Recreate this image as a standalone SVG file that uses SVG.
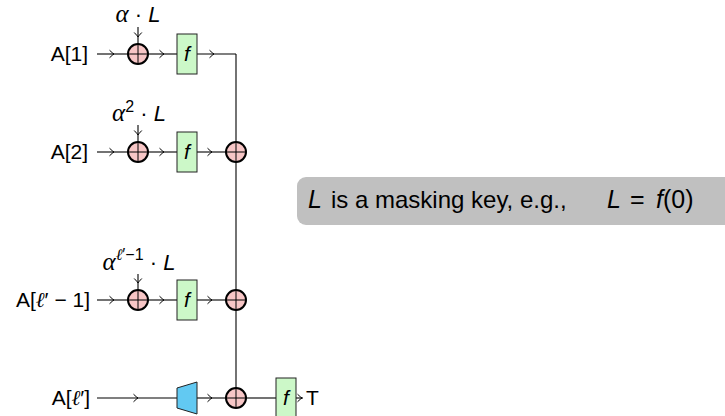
<svg xmlns="http://www.w3.org/2000/svg" width="725" height="416" viewBox="0 0 725 416">
  <style>
    .wire { fill: none; stroke: #000; stroke-width: 1.1; }
    .arr { marker-mid: url(#to); }
    .fbox rect { fill: #ccf8c8; stroke: #222; stroke-width: 1; }
    .lbl { font-family: "Liberation Sans", Arial, sans-serif; font-size: 21px; fill: #000; }
    .key { font-family: "Liberation Sans", Arial, sans-serif; font-size: 22px; fill: #000; }
    .math { font-family: "Liberation Serif", "Times New Roman", serif; font-style: italic; }
    .isans { font-family: "Liberation Sans", Arial, sans-serif; font-style: italic; }
  </style>
  <defs>
    <marker id="to" markerWidth="10" markerHeight="10" viewBox="-6 -5 8 10" refX="0" refY="0" orient="auto" markerUnits="userSpaceOnUse">
      <path d="M -4.5,-3.8 Q -1.2,-0.6 0,0 Q -1.2,0.6 -4.5,3.8" fill="none" stroke="#000" stroke-width="1"/>
    </marker>
    <!-- xor symbol: pink disc with a cross -->
    <g id="oplus">
      <circle r="10" fill="#f7c6c6" stroke="#000" stroke-width="2"/>
      <path d="M -10,0 H 10 M 0,-10 V 10" stroke="#000" stroke-width="1" fill="none"/>
    </g>
  </defs>

  <!-- connectors -->
  <g id="connectors">
    <!-- row 1 -->
    <path class="wire arr" d="M 97,54 L 114,54 L 128,54"/>
    <path class="wire arr" d="M 148,54 L 164,54 L 177,54"/>
    <path class="wire arr" d="M 197,54 L 214,54 L 236,54"/>
    <path class="wire arr" d="M 138,27 L 138,37 L 138,44"/>
    <!-- trunk -->
    <path class="wire" d="M 236,54 L 236,398"/>
    <!-- row 2 -->
    <path class="wire arr" d="M 97,152 L 114,152 L 128,152"/>
    <path class="wire arr" d="M 148,152 L 164,152 L 177,152"/>
    <path class="wire arr" d="M 197,152 L 212,152 L 226,152"/>
    <path class="wire arr" d="M 138,125 L 138,135 L 138,142"/>
    <!-- row 3 -->
    <path class="wire arr" d="M 97,300 L 114,300 L 128,300"/>
    <path class="wire arr" d="M 148,300 L 164,300 L 177,300"/>
    <path class="wire arr" d="M 197,300 L 212,300 L 226,300"/>
    <path class="wire arr" d="M 138,274 L 138,283 L 138,290"/>
    <!-- row 4 -->
    <path class="wire arr" d="M 97,398 L 138,398 L 177,398"/>
    <path class="wire arr" d="M 197,398 L 212,398 L 226,398"/>
    <path class="wire" d="M 246,398 L 276,398"/>
    <path class="wire arr" d="M 296,398 L 302,398 L 303,398"/>
  </g>

  <!-- row 1 -->
  <g id="in1"><text class="lbl" x="88" y="61" text-anchor="end">A[1]</text></g>
  <g id="key1"><text class="key" x="138" y="22" text-anchor="middle"><tspan class="math" font-size="25">α</tspan> · <tspan class="isans">L</tspan></text></g>
  <g id="xor1"><use href="#oplus" x="138" y="54"/></g>
  <g id="f1" class="fbox"><rect x="177" y="34" width="20" height="40"/><text class="lbl isans" x="187" y="61" text-anchor="middle">f</text></g>

  <!-- row 2 -->
  <g id="in2"><text class="lbl" x="88" y="159" text-anchor="end">A[2]</text></g>
  <g id="key2"><text class="key" x="139" y="121" text-anchor="middle"><tspan class="math" font-size="25">α</tspan><tspan font-size="16" dy="-9">2</tspan><tspan dy="9"> · </tspan><tspan class="isans">L</tspan></text></g>
  <g id="xor2"><use href="#oplus" x="138" y="152"/></g>
  <g id="f2" class="fbox"><rect x="177" y="132" width="20" height="40"/><text class="lbl isans" x="187" y="159" text-anchor="middle">f</text></g>
  <g id="sum2"><use href="#oplus" x="236" y="152"/></g>

  <!-- row 3 -->
  <g id="in3"><text class="lbl" x="90" y="307" text-anchor="end">A[<tspan class="math">ℓ</tspan>′ − 1]</text></g>
  <g id="key3"><text class="key" x="139" y="270" text-anchor="middle"><tspan class="math" font-size="25">α</tspan><tspan font-size="16" dy="-10"><tspan class="math">ℓ</tspan>′−1</tspan><tspan dy="10"> · </tspan><tspan class="isans">L</tspan></text></g>
  <g id="xor3"><use href="#oplus" x="138" y="300"/></g>
  <g id="f3" class="fbox"><rect x="177" y="280" width="20" height="40"/><text class="lbl isans" x="187" y="307" text-anchor="middle">f</text></g>
  <g id="sum3"><use href="#oplus" x="236" y="300"/></g>

  <!-- row 4 -->
  <g id="in4"><text class="lbl" x="90" y="405" text-anchor="end">A[<tspan class="math">ℓ</tspan>′]</text></g>
  <g id="pad"><polygon points="177,388 197,382 197,414 177,408" fill="#62c9f2" stroke="#222" stroke-width="1"/></g>
  <g id="sum4"><use href="#oplus" x="236" y="398"/></g>
  <g id="f4" class="fbox"><rect x="276" y="378" width="20" height="40"/><text class="lbl isans" x="286" y="405" text-anchor="middle">f</text></g>
  <g id="tag"><text class="lbl" x="306" y="405">T</text></g>

  <!-- note -->
  <g id="note">
    <rect x="297" y="177" width="440" height="48" rx="9" fill="#c0c0c0"/>
    <text x="308" y="208" font-family="Liberation Sans, Arial, sans-serif" font-size="25" fill="#000"><tspan font-style="italic">L</tspan><tspan x="331" font-size="24">is a masking key, e.g.,</tspan><tspan x="607" font-style="italic">L</tspan><tspan x="630">=</tspan><tspan x="656" font-style="italic">f</tspan><tspan>(0)</tspan></text>
  </g>
</svg>
